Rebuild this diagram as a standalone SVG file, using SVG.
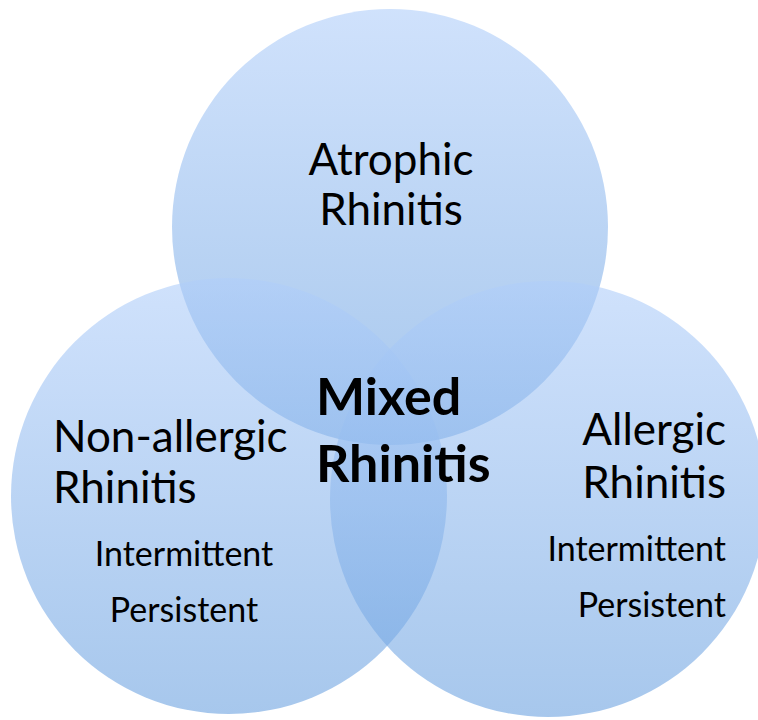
<svg xmlns="http://www.w3.org/2000/svg" width="758" height="720" viewBox="0 0 758 720">
<defs>
<linearGradient id="g" x1="0" y1="0" x2="0" y2="1">
<stop offset="0" stop-color="#b0cefa"/>
<stop offset="1" stop-color="#6ca2e0"/>
</linearGradient>
<style>
.c{fill:url(#g);fill-opacity:0.6}
.t{font-family:Lato,"Open Sans","Liberation Sans",sans-serif;fill:#000}
.big{font-size:44px}
.sm{font-size:34px}
.b{font-size:52px;font-weight:bold}
</style>
</defs>
<rect width="758" height="720" fill="#fff"/>
<g id="atrophic">
<circle class="c" cx="390" cy="227" r="218"/>
<text class="t big" x="391" y="175" text-anchor="middle">Atrophic</text>
<text class="t big" x="391" y="225" text-anchor="middle">Rhinitis</text>
</g>
<g id="nonallergic">
<circle class="c" cx="229" cy="496" r="218"/>
<text class="t big" x="53" y="452">Non-allergic</text>
<text class="t big" x="53" y="503">Rhinitis</text>
<text class="t sm" x="184" y="566" text-anchor="middle">Intermittent</text>
<text class="t sm" x="184" y="622" text-anchor="middle">Persistent</text>
</g>
<g id="allergic">
<circle class="c" cx="548" cy="499" r="218"/>
<text class="t big" x="726" y="445" text-anchor="end">Allergic</text>
<text class="t big" x="726" y="498" text-anchor="end">Rhinitis</text>
<text class="t sm" x="726" y="561" text-anchor="end">Intermittent</text>
<text class="t sm" x="726" y="617" text-anchor="end">Persistent</text>
</g>
<g id="mixed">
<text class="t b" x="316" y="415">Mixed</text>
<text class="t b" x="316" y="482">Rhinitis</text>
</g>
<g id="connectors"/>
</svg>
